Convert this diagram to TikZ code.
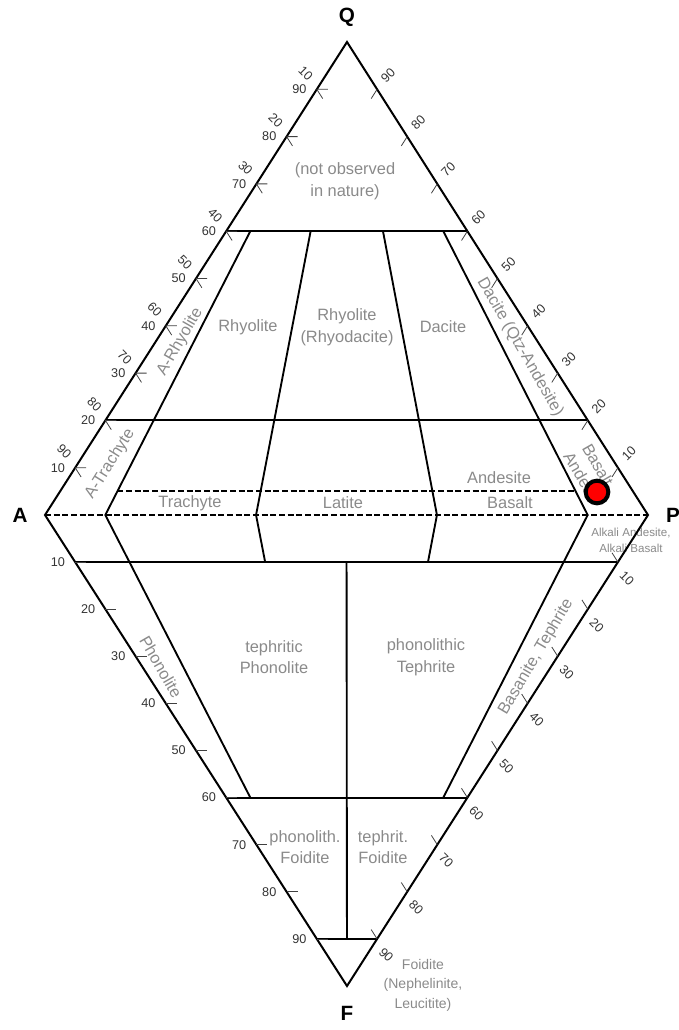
\documentclass[tikz,border=0pt]{standalone}
\usepackage{fontspec}
\setmainfont{Liberation Sans}
\usetikzlibrary{calc}
\definecolor{rockgray}{RGB}{138,138,138}
\definecolor{redpt}{RGB}{255,0,0}
\tikzset{
  frame/.style={line width=1.5pt, line join=miter},
  fieldline/.style={line width=1.4pt},
  dashline/.style={line width=1.3pt, dash pattern=on 4.5pt off 2pt},
  tickline/.style={line width=0.6pt, black!75},
  corner/.style={font=\bfseries\fontsize{15.5}{18}\selectfont, inner sep=0pt},
  rock/.style={text=rockgray, font=\fontsize{12.3}{16.3}\selectfont, align=center, inner sep=0pt},
  smallrock/.style={rock, font=\fontsize{10.5}{14.6}\selectfont},
  tinyrock/.style={rock, font=\fontsize{8.7}{12}\selectfont},
  axnum/.style={text=black!80, font=\fontsize{9.5}{11}\selectfont, inner sep=0pt},
  sample/.style={circle, draw=black, fill=redpt, line width=3pt, minimum size=17pt, inner sep=0pt}
}

\begin{document}
\begin{tikzpicture}[x=0.75pt, y=-0.75pt]
  \useasboundingbox (0,0) rectangle (678,1030);
  % corners of the QAPF double triangle
  \coordinate (Q) at (347,42);
  \coordinate (A) at (45,515);
  \coordinate (P) at (648,515);
  \coordinate (F) at (347,986);

  % field boundary points (Q/F fraction, P/(A+P) ratio)
  \coordinate (q60a) at (barycentric cs:Q=.6,A=.4);
  \coordinate (q60p) at (barycentric cs:Q=.6,P=.4);
  \coordinate (q20a) at (barycentric cs:Q=.2,A=.8);
  \coordinate (q20p) at (barycentric cs:Q=.2,P=.8);
  \coordinate (q60r10) at (barycentric cs:Q=.6,A=.36,P=.04);
  \coordinate (q60r35) at (barycentric cs:Q=.6,A=.26,P=.14);
  \coordinate (q60r65) at (barycentric cs:Q=.6,A=.14,P=.26);
  \coordinate (q60r90) at (barycentric cs:Q=.6,A=.04,P=.36);
  \coordinate (q20r90) at (barycentric cs:Q=.2,A=.08,P=.72);
  \coordinate (q0r10) at (barycentric cs:A=.9,P=.1);
  \coordinate (q0r35) at (barycentric cs:A=.65,P=.35);
  \coordinate (q0r65) at (barycentric cs:A=.35,P=.65);
  \coordinate (q0r90) at (barycentric cs:A=.1,P=.9);
  \coordinate (q05r10) at (barycentric cs:Q=.05,A=.855,P=.095);
  \coordinate (q05r90) at (barycentric cs:Q=.05,A=.095,P=.855);
  \coordinate (q05p) at (barycentric cs:Q=.05,P=.95);
  \coordinate (f10a) at (barycentric cs:F=.1,A=.9);
  \coordinate (f10p) at (barycentric cs:F=.1,P=.9);
  \coordinate (f10r35) at (barycentric cs:F=.1,A=.585,P=.315);
  \coordinate (f10r65) at (barycentric cs:F=.1,A=.315,P=.585);
  \coordinate (f10m) at (barycentric cs:F=.1,A=.45,P=.45);
  \coordinate (f60a) at (barycentric cs:F=.6,A=.4);
  \coordinate (f60p) at (barycentric cs:F=.6,P=.4);
  \coordinate (f60r10) at (barycentric cs:F=.6,A=.36,P=.04);
  \coordinate (f60r90) at (barycentric cs:F=.6,A=.04,P=.36);
  \coordinate (f90a) at (barycentric cs:F=.9,A=.1);
  \coordinate (f90p) at (barycentric cs:F=.9,P=.1);
  \coordinate (f90m) at (barycentric cs:F=.9,A=.05,P=.05);

  % rock names
  \node[rock] (notobs) at (345,181) {(not observed\\in nature)};
  \node[rock] (rhy) at (248,327) {Rhyolite};
  \node[rock] (rhyd) at (347,327) {Rhyolite\\(Rhyodacite)};
  \node[rock] (dac) at (443,327) {Dacite};
  \node[rock, rotate=60] (arhy) at (180,342) {A-Rhyolite};
  \node[rock, rotate=58] (atra) at (110,464) {A-Trachyte};
  \node[rock, rotate=-60] (dacq) at (520,347) {Dacite (Qtz-Andesite)};
  \node[rock] (tra) at (190,503) {Trachyte};
  \node[rock] (lat) at (343,503) {Latite};
  \node[rock] (and) at (499,478) {Andesite};
  \node[rock] (bas) at (510,503) {Basalt};
  \begin{scope}
    \clip (q20r90) -- (q20p) -- (q05p) -- (q05r90) -- cycle;
    \node[rock, rotate=-60] (bandand) at (584,481) {Andesite};
    \node[rock, rotate=-60] (bandbas) at (598,465) {Basalt};
  \end{scope}
  \node[tinyrock] (alk) at (631,540) {Alkali Andesite,\\Alkali Basalt};
  \node[rock, rotate=-60] (pho) at (161,667) {Phonolite};
  \node[rock] (tpho) at (274,657) {tephritic\\Phonolite};
  \node[rock] (ptep) at (426,657) {phonolithic\\Tephrite};
  \node[rock, rotate=59.5] (bast) at (536,657) {Basanite, Tephrite};
  \node[rock] (pfoi) at (305,847) {phonolith.\\Foidite};
  \node[rock] (tfoi) at (383,847) {tephrit.\\Foidite};
  \node[smallrock] (foi) at (423,985) {Foidite\\(Nephelinite,\\Leucitite)};

  % outline and field boundaries
  \draw[frame] (Q) -- (A) -- (F) -- (P) -- cycle;
  \draw[dashline] (A) -- (P);
  \draw[dashline] (q05r10) -- (q05r90);
  \draw[fieldline] (q60a) -- (q60p) (q20a) -- (q20p);
  \draw[fieldline] (f10a) -- (f10p) (f60a) -- (f60p) (f90a) -- (f90p);
  \draw[fieldline] (q60r10) -- (q0r10) -- (f60r10);
  \draw[fieldline] (q60r35) -- (q0r35) -- (f10r35);
  \draw[fieldline] (q60r65) -- (q0r65) -- (f10r65);
  \draw[fieldline] (q60r90) -- (q0r90) -- (f60r90);
  \draw[fieldline] (f10m) -- (f90m);

  % scale ticks and numbers
  \foreach \v in {1,...,9}{
    \pgfmathtruncatemacro\qv{10*\v}
    \pgfmathtruncatemacro\av{100-10*\v}
    \coordinate (ul) at ($(A)!\v/10!(Q)$);
    \coordinate (ur) at ($(P)!\v/10!(Q)$);
    \coordinate (ll) at ($(A)!\v/10!(F)$);
    \coordinate (lr) at ($(P)!\v/10!(F)$);
    \draw[tickline] (ul) -- +(11,0) (ul) -- +(5.9,9.3);
    \draw[tickline] (ur) -- +(-5.9,9.3);
    \draw[tickline] (ll) -- +(11,0);
    \draw[tickline] (lr) -- +(-5.9,-9.3);
    \node[axnum, anchor=east] at ($(ul)+(-10,0)$) {\qv};
    \node[axnum, rotate=-45] at ($(ul)+(-11,-16)$) {\av};
    \node[axnum, rotate=45] at ($(ur)+(11,-14)$) {\qv};
    \node[axnum, anchor=east] at ($(ll)+(-10,0)$) {\qv};
    \node[axnum, rotate=-45] at ($(lr)+(9,16)$) {\qv};
  }

  % corner letters
  \node[corner] (lQ) at ($(Q)+(0,-25)$) {Q};
  \node[corner] (lA) at ($(A)+(-25,0)$) {A};
  \node[corner] (lP) at ($(P)+(25,0)$) {P};
  \node[corner] (lF) at ($(F)+(0,27)$) {F};

  % sample point
  \node[sample] (dot) at (597,492) {};
\end{tikzpicture}
\end{document}
